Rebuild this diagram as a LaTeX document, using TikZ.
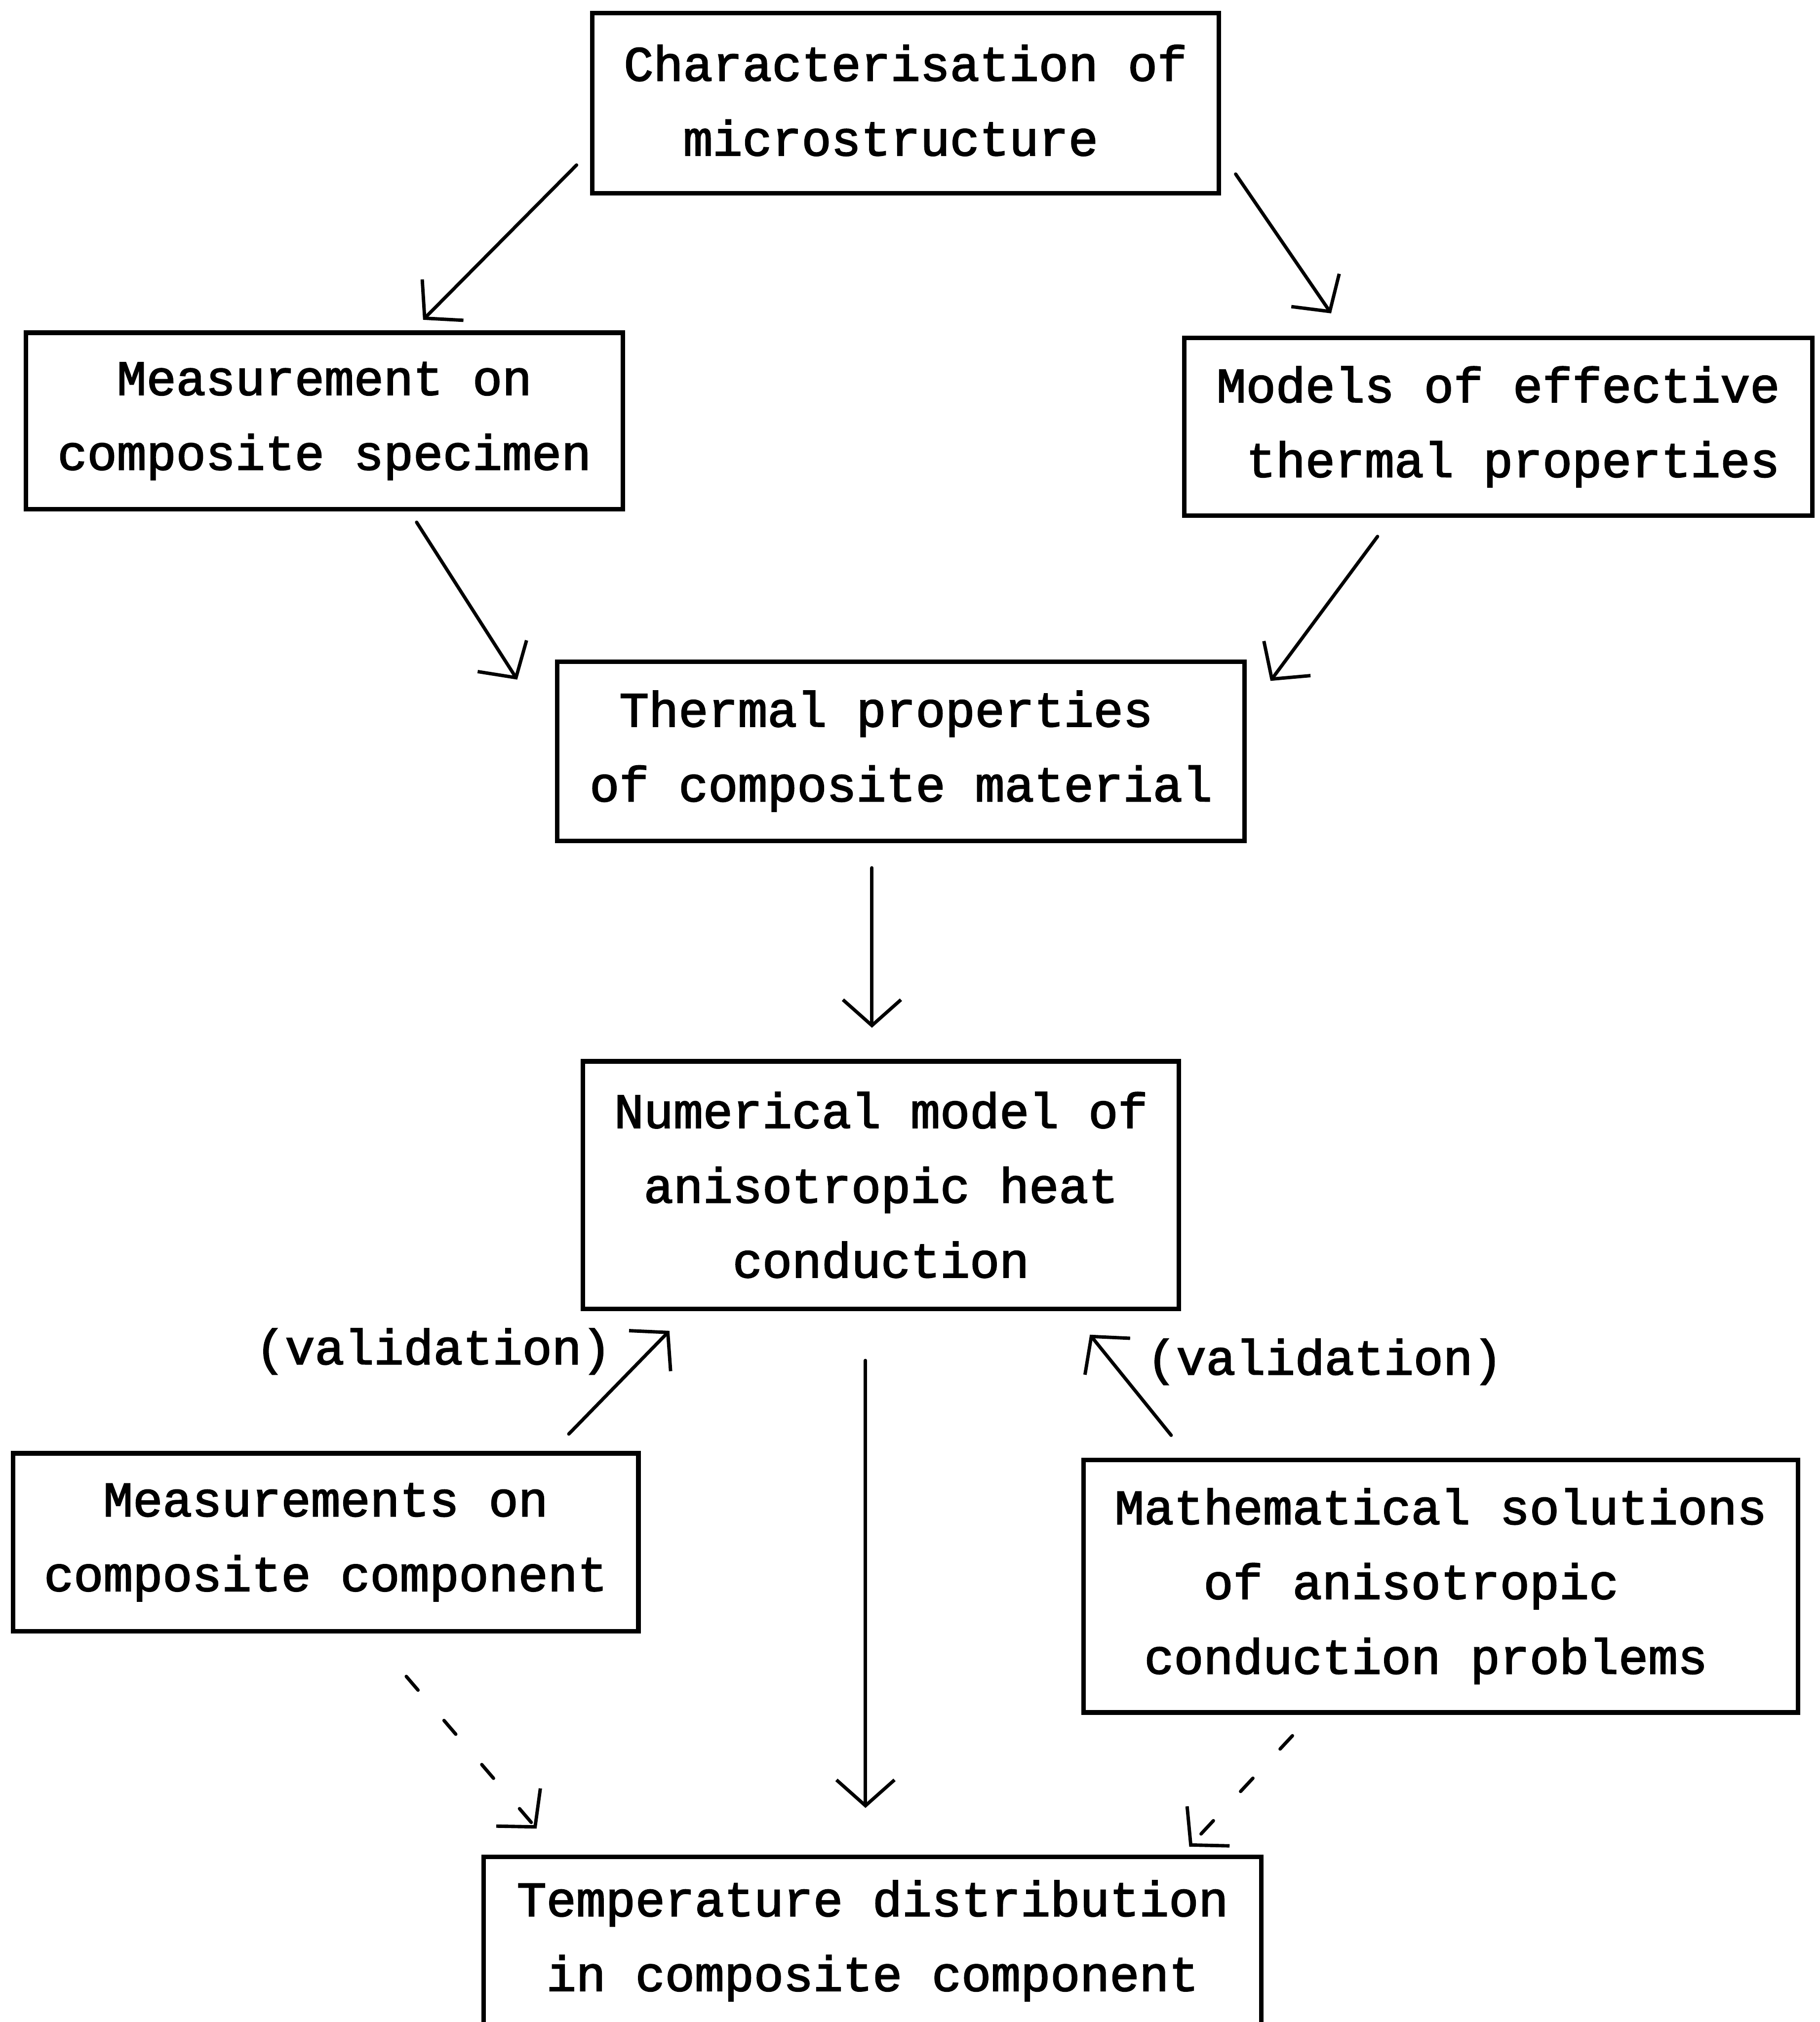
\documentclass[tikz,border=0pt]{standalone}
\usepackage{fontspec}
\newfontfamily\tw{Liberation Mono}[FakeBold=2.2]
\usetikzlibrary{arrows.meta}
\begin{document}
\begin{tikzpicture}[x=0.02cm,y=-0.02cm,
  box/.style={draw, line width=2pt, align=center, inner sep=0pt,
    font=\tw\fontsize{21.8}{33}\selectfont},
  lbl/.style={inner sep=0pt, font=\tw\fontsize{21.8}{33}\selectfont},
  conn/.style={line width=1.5pt, line cap=round,
    -{Straight Barb[length=0.4cm,width=0.9cm,line width=1.5pt]}},
  dconn/.style={conn, dash pattern=on 0.28cm off 0.62cm}]
\useasboundingbox (0,0) rectangle (1411,1568);
\clip (0,0) rectangle (1411,1568);
\fill[white] (0,0) rectangle (1411,1568);

\node[box, minimum width=9.72cm, minimum height=2.8cm] (b1) at (702,80)
  {\raisebox{3pt}{\begin{tabular}{@{}c@{}}Characterisation of\\microstructure\hphantom{x}\end{tabular}}};
\node[box, minimum width=9.26cm, minimum height=2.74cm] (b2) at (251.5,326.5)
  {Measurement on\\composite specimen};
\node[box, minimum width=9.74cm, minimum height=2.76cm] (b3) at (1161.5,331)
  {Models of effective\\\hphantom{x}thermal properties};
\node[box, minimum width=10.66cm, minimum height=2.78cm] (b4) at (698.5,582.5)
  {Thermal properties\hphantom{x}\\of composite material};
\node[box, minimum width=9.24cm, minimum height=3.84cm] (b5) at (683,919)
  {Numerical model of\\anisotropic heat\\conduction};
\node[box, minimum width=9.7cm, minimum height=2.76cm] (b6) at (252.5,1196)
  {Measurements on\\composite component};
\node[box, minimum width=11.08cm, minimum height=3.92cm] (b7) at (1117,1230)
  {Mathematical solutions\\of anisotropic\hphantom{xx}\\conduction problems\hphantom{x}};
\node[box, minimum width=12.06cm, minimum height=2.6cm] (b8) at (676.5,1505)
  {Temperature distribution\\in composite component};

\node[lbl] (v1) at (336,1048) {(validation)};
\node[lbl] (v2) at (1027,1056) {(validation)};

\coordinate (a1s) at (447,128);  \coordinate (a1e) at (328,248);
\coordinate (a2s) at (958,135);  \coordinate (a2e) at (1032,243);
\coordinate (a3s) at (323,405);  \coordinate (a3e) at (401,527);
\coordinate (a4s) at (1068,416); \coordinate (a4e) at (985,528);
\coordinate (a5s) at (676,673);  \coordinate (a5e) at (676,797);
\coordinate (a6s) at (441,1112); \coordinate (a6e) at (519,1032);
\coordinate (a7s) at (908,1113); \coordinate (a7e) at (845,1035);
\coordinate (a8s) at (671,1055); \coordinate (a8e) at (671,1402);
\coordinate (a9s) at (315,1300); \coordinate (a9e) at (416,1418);
\coordinate (a10s) at (1002,1346); \coordinate (a10e) at (922,1432);

\draw[conn] (a1s) -- (a1e);
\draw[conn] (a2s) -- (a2e);
\draw[conn] (a3s) -- (a3e);
\draw[conn] (a4s) -- (a4e);
\draw[conn] (a5s) -- (a5e);
\draw[conn] (a6s) -- (a6e);
\draw[conn] (a7s) -- (a7e);
\draw[conn] (a8s) -- (a8e);
\draw[dconn] (a9s) -- (a9e);
\draw[dconn] (a10s) -- (a10e);
\end{tikzpicture}
\end{document}
